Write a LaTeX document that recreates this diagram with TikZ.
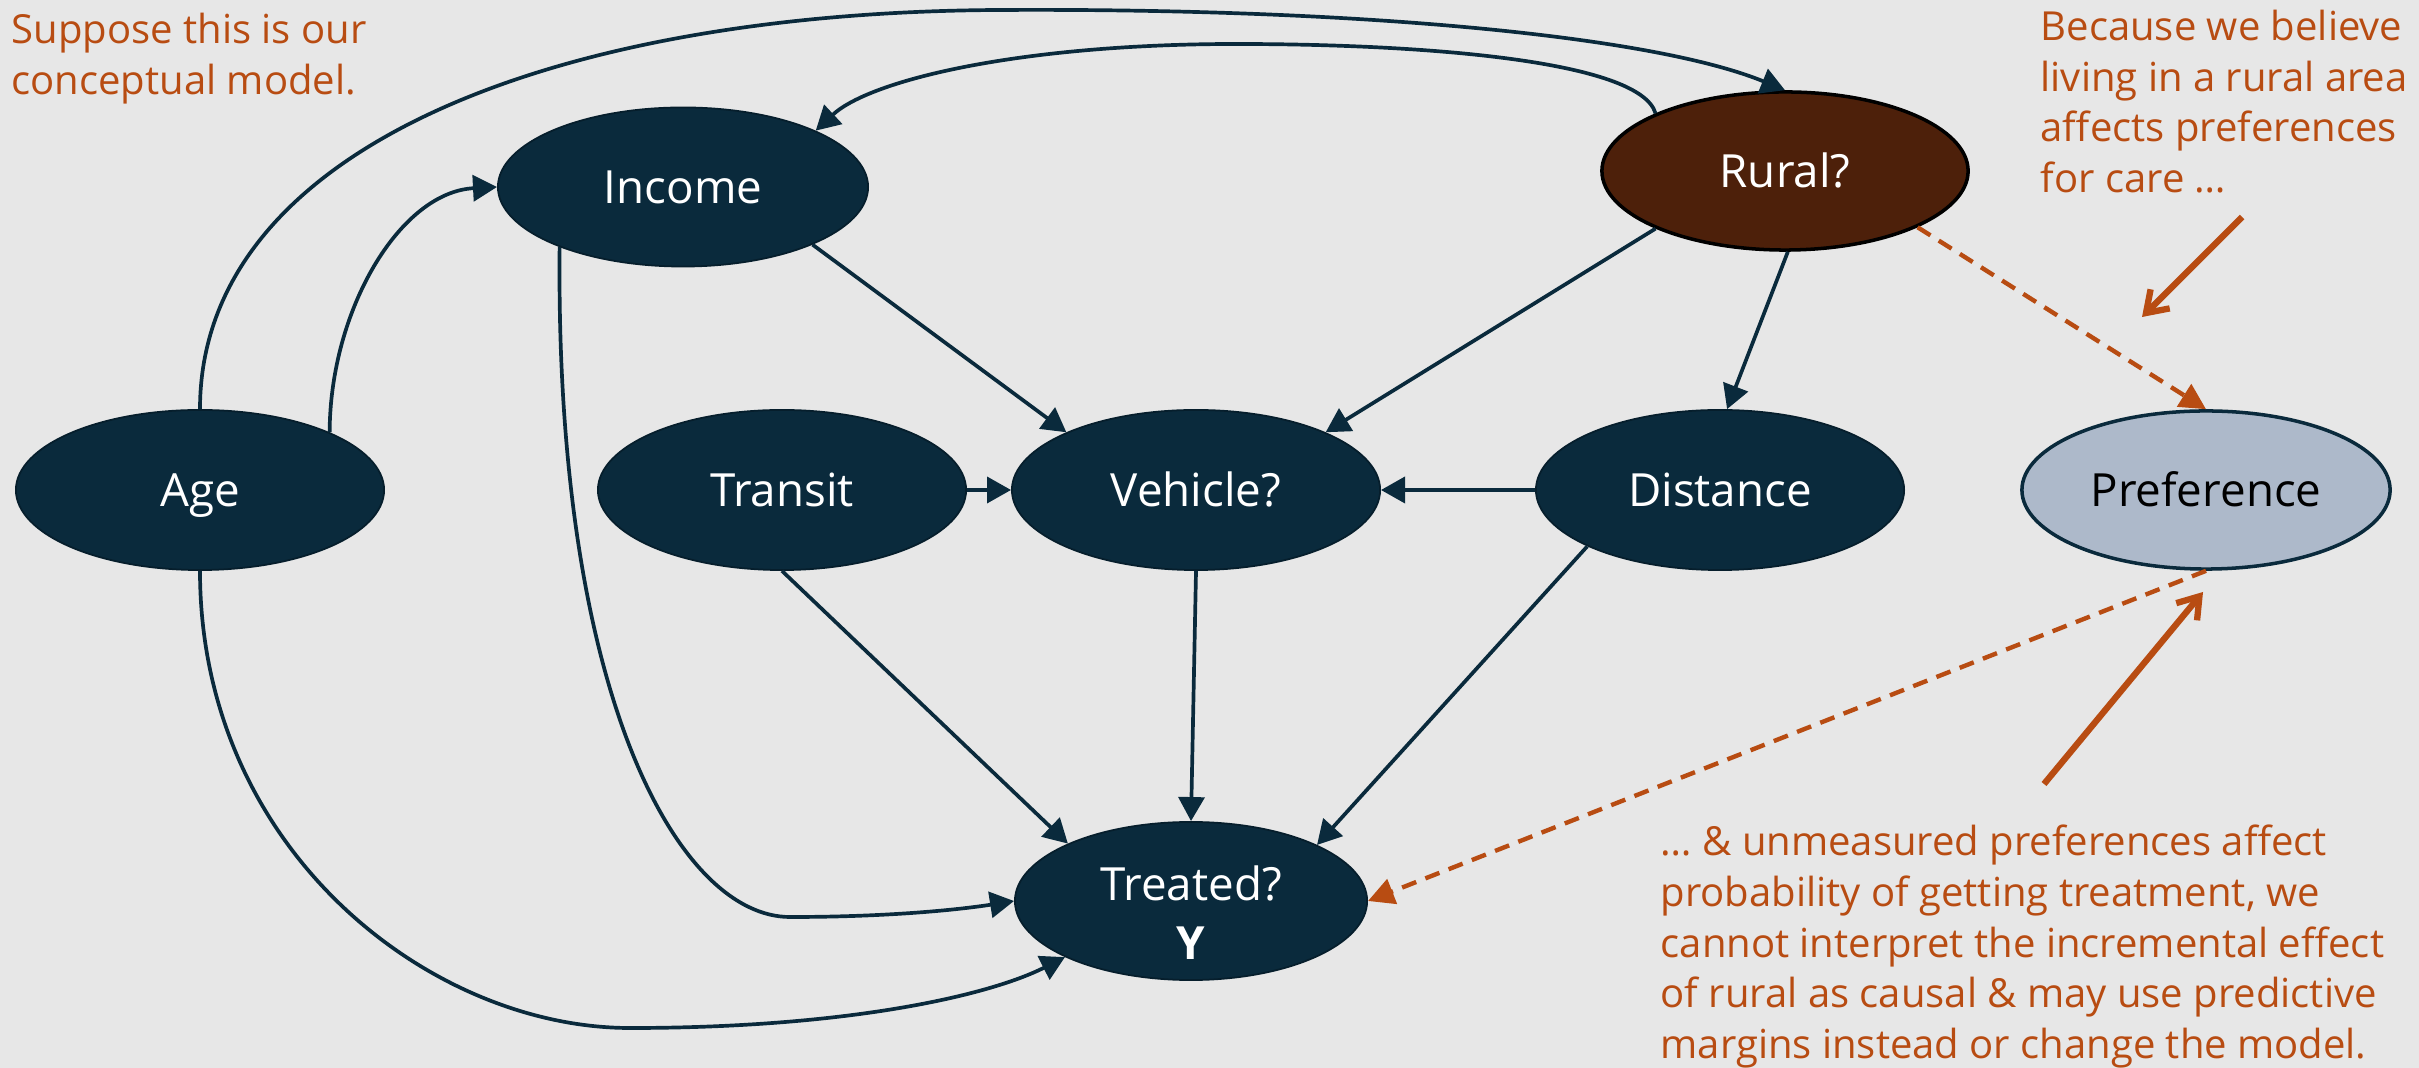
\documentclass[tikz,border=0pt]{standalone}
\usepackage{fontspec}
\setmainfont{Open Sans}
\usetikzlibrary{arrows.meta,shapes.geometric}
\definecolor{bg}{RGB}{231,231,231}
\definecolor{navy}{RGB}{10,42,60}
\definecolor{navyedge}{RGB}{6,30,44}
\definecolor{ruralfill}{RGB}{77,32,10}
\definecolor{prefill}{RGB}{173,185,202}
\definecolor{rust}{RGB}{184,76,18}
\begin{document}
\begin{tikzpicture}[x=0.01cm,y=-0.01cm,
  var/.style={ellipse, draw=navyedge, line width=0.5pt, fill=navy, text=white,
    minimum width=3.68cm, minimum height=1.6cm, inner sep=0pt,
    text height=0.34cm, text depth=0.01cm,
    font=\fontsize{13}{16.5}\selectfont},
  link/.style={draw=navy, line width=1.05pt, -{Triangle[length=0.24cm,width=0.26cm]}},
  dashedge/.style={draw=rust, line width=1.25pt, dash pattern=on 4.3pt off 2.8pt,
    -{Triangle[length=0.26cm,width=0.26cm]}},
  pointer/.style={draw=rust, line width=1.8pt, -{Straight Barb[length=0.2cm,width=0.27cm]}},
  note/.style={text=rust, font=\fontsize{11.38}{14.4}\selectfont, align=left,
    anchor=north west, inner sep=0pt}
]
\fill[bg] (0,0) rectangle (2419,1068);
\useasboundingbox (0,0) rectangle (2419,1068);

% nodes
\node[var] (age) at (200,490) {Age};
\node[var, minimum width=3.7cm, minimum height=1.59cm] (income) at (683,187) {Income};
\node[var, fill=ruralfill, draw=black, line width=1pt, minimum width=3.66cm, minimum height=1.58cm] (rural) at (1785,171) {Rural?};
\node[var] (transit) at (782,490) {Transit};
\node[var] (vehicle) at (1196,490) {Vehicle?};
\node[var] (distance) at (1720,490) {Distance};
\node[var, fill=prefill, text=black, draw=navy, line width=1pt, minimum height=1.58cm] (pref) at (2206,490) {Preference};
\node[var, minimum width=3.52cm, minimum height=1.58cm, text height=0pt, text depth=0pt] (treated) at (1191,901)
  {\begin{tabular}[t]{@{}c@{}}Treated?\\\textbf{Y}\end{tabular}};

% curved connectors
\draw[link] (age.north) .. controls (200,150) and (550,12) .. (1000,10)
  .. controls (1350,8) and (1650,35) .. (rural.north);
\draw[link] (rural.156) .. controls (1640,60) and (1420,44) .. (1236,44)
  .. controls (1020,44) and (870,80) .. (income.23);
\draw[link] (age.24) .. controls (330,310) and (400,192) .. (income.west);
\draw[link] (income.206) .. controls (555,700) and (680,917) .. (790,917)
  .. controls (900,917) and (970,908) .. (treated.west);
\draw[link] (age.south) .. controls (200,850) and (430,1028) .. (630,1028)
  .. controls (850,1028) and (990,995) .. (treated.204.6);

% straight connectors
\draw[link] (income.-24) -- (vehicle.156);
\draw[link] (rural.204) -- (vehicle.24);
\draw[link] (rural.-88) -- (distance.85);
\draw[link] (transit.east) -- (vehicle.west);
\draw[link] (distance.west) -- (vehicle.east);
\draw[link] (vehicle.south) -- (treated.north);
\draw[link] (transit.south) -- (treated.155.8);
\draw[link] (distance.203.5) -- (treated.24.8);

% orange
\draw[dashedge] (rural.-23) -- (pref.north);
\draw[dashedge] (pref.south) -- (treated.east);
\coordinate (c1s) at (2242,217);
\coordinate (c1e) at (2142,317);
\coordinate (c2s) at (2044,784);
\coordinate (c2e) at (2203,592);
\draw[pointer] (c1s) -- (c1e);
\draw[pointer] (c2s) -- (c2e);

% notes
\node[note] (n1) at (11,12.6) {Suppose this is our\\conceptual model.};
\node[note] (n2) at (2040,9.6) {Because we believe\\living in a rural area\\affects preferences\\for care …};
\node[note] (n3) at (1660,824.6) {… \& unmeasured preferences affect\\probability of getting treatment, we\\cannot interpret the incremental effect\\of rural as causal \& may use predictive\\margins instead or change the model.};
\end{tikzpicture}
\end{document}
